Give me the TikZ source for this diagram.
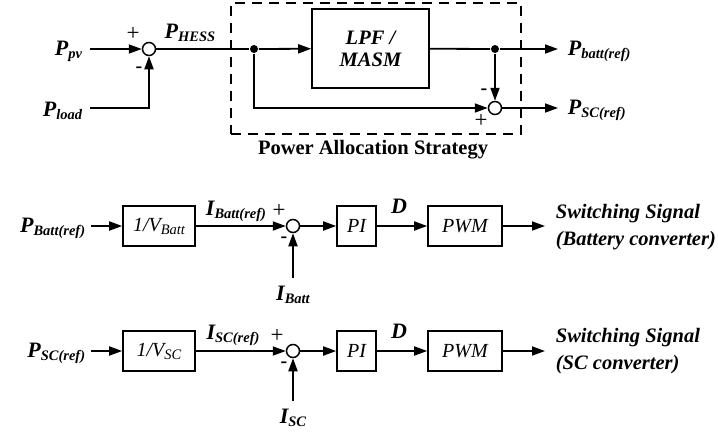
\documentclass[tikz,border=0pt]{standalone}
\usepackage{fontspec}
\setmainfont{Liberation Serif}
\usetikzlibrary{arrows.meta}
\newcommand\sbx[1]{\raisebox{-3pt}{\fontsize{14.5}{14.5}\selectfont #1}}
\begin{document}
\begin{tikzpicture}[x=1pt,y=-1pt,line width=1.8pt,
  >={Triangle[length=13pt,width=9pt]},
  blk/.style={draw,line width=1.6pt,minimum height=40pt,inner sep=0pt,font=\fontsize{20}{22}\selectfont\itshape},
  sumc/.style={draw,circle,minimum size=13pt,inner sep=0pt,line width=1.5pt,fill=white},
  lbl/.style={inner sep=0pt,font=\fontsize{22}{24}\selectfont\bfseries\itshape},
  sgn/.style={inner sep=0pt,font=\fontsize{20}{20}\selectfont\bfseries},
  plus/.style={inner sep=0pt,font=\fontsize{23}{23}\selectfont},
  dotc/.style={circle,fill,inner sep=0pt,minimum size=8pt},
  dbox/.style={draw,dashed,dash pattern=on 10pt off 7pt,line width=1.6pt,inner sep=0pt},
  sw/.style={inner sep=0pt,align=left,font=\fontsize{20.5}{27}\selectfont\bfseries\itshape}]
\useasboundingbox (0,0) rectangle (718,432);

% ---------- top: power allocation ----------
\node[dbox,minimum width=290pt,minimum height=131pt] (pas) at (376,68.5) {};
\node[inner sep=0pt,font=\fontsize{20.5}{22}\selectfont\bfseries] (pastxt) at (373,150) {Power Allocation Strategy};
\node[blk,minimum width=117pt,minimum height=79pt,align=center,font=\fontsize{20.5}{22}\selectfont\bfseries\itshape] (lpf) at (370.5,48.5) {LPF /\\MASM};
\node[sumc] (s1) at (149,49) {};
\node[sumc] (s2) at (495,108) {};
\coordinate (a0) at (90,49);
\coordinate (b0) at (90,108);
\node[lbl,anchor=east] (Ppv) at (83,51) {P\sbx{pv}};
\node[lbl,anchor=east] (Pload) at (83,111) {P\sbx{load}};
\node[lbl] (Phess) at (190,33) {P\sbx{HESS}};
\node[dotc] (d1) at (254,49) {};
\node[dotc] (d2) at (495,49) {};
\coordinate (o1) at (558,49);
\coordinate (o2) at (558,108);
\node[lbl,anchor=west] (Pbatt) at (567,51) {P\sbx{batt(ref)}};
\node[lbl,anchor=west] (Pscr) at (567,110) {P\sbx{SC(ref)}};
\node[plus] at (133,34) {+};
\node[sgn] at (139,70) {-};
\node[sgn] at (484,92) {-};
\node[plus] at (481,121) {+};

\draw[->] (a0) -- (s1);
\draw[->] (b0) -| (s1);
\draw (s1) -- (d1);
\draw[->] (d1) -- (lpf);
\draw (lpf) -- (d2);
\draw[->] (d2) -- (o1);
\draw[->] (d2) -- (s2);
\draw[->] (d1) |- (s2);
\draw[->] (s2) -- (o2);

% ---------- middle: battery loop ----------
\coordinate (c0) at (91,226);
\node[lbl,anchor=east] (Pbr) at (86,228) {P\sbx{Batt(ref)}};
\node[blk,minimum width=72pt] (v1) at (159,226) {1/V\sbx{Batt}};
\node[sumc] (s3) at (293,226) {};
\node[blk,minimum width=39pt] (pi1) at (356.5,226) {PI};
\node[blk,minimum width=74pt] (pwm1) at (465,226) {PWM};
\coordinate (e1) at (545,226);
\node[sw,anchor=west] (sw1) at (555,227) {Switching Signal\\(Battery converter)};
\coordinate (f1) at (293,278);
\node[lbl] (Ib) at (293,295) {I\sbx{Batt}};
\node[lbl] (Ibr) at (236,211) {I\sbx{Batt(ref)}};
\node[plus] at (279,211) {+};
\node[sgn] at (284,240) {-};
\node[lbl] (D1) at (399,206) {D};

\draw[->] (c0) -- (v1);
\draw[->] (v1) -- (s3);
\draw[->] (f1) -- (s3);
\draw[->] (s3) -- (pi1);
\draw[->] (pi1) -- (pwm1);
\draw[->] (pwm1) -- (e1);

% ---------- bottom: SC loop ----------
\coordinate (c1) at (91,351);
\node[lbl,anchor=east] (Psr) at (86,353) {P\sbx{SC(ref)}};
\node[blk,minimum width=72pt] (v2) at (159,351) {1/V\sbx{SC}};
\node[sumc] (s4) at (293,351) {};
\node[blk,minimum width=39pt] (pi2) at (356.5,351) {PI};
\node[blk,minimum width=74pt] (pwm2) at (465,351) {PWM};
\coordinate (e2) at (545,351);
\node[sw,anchor=west] (sw2) at (555,351) {Switching Signal\\(SC converter)};
\coordinate (f2) at (293,401);
\node[lbl] (Isc) at (293,418) {I\sbx{SC}};
\node[lbl] (Iscr) at (233,335) {I\sbx{SC(ref)}};
\node[plus] at (277,336) {+};
\node[sgn] at (284,365) {-};
\node[lbl] (D2) at (399,331) {D};

\draw[->] (c1) -- (v2);
\draw[->] (v2) -- (s4);
\draw[->] (f2) -- (s4);
\draw[->] (s4) -- (pi2);
\draw[->] (pi2) -- (pwm2);
\draw[->] (pwm2) -- (e2);
\end{tikzpicture}
\end{document}
